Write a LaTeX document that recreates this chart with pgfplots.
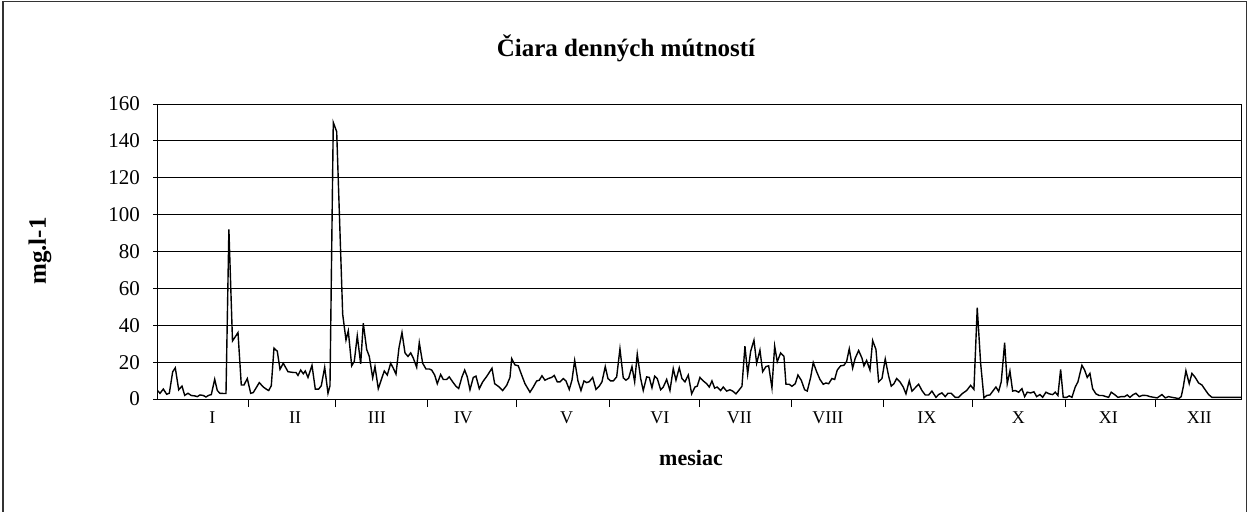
\documentclass[border=0pt]{standalone}
\usepackage{pgfplots}
\pgfplotsset{compat=1.18}
\usepackage{pgfplotstable}
\usepackage{fontspec}
\setmainfont{Liberation Serif}
\pgfplotstableread{
px val
156.7 5.0
160.0 3.1
163.3 5.4
166.7 2.6
169.3 3.1
172.7 14.8
175.3 16.9
178.7 5.0
182.0 7.0
184.7 2.0
188.0 3.1
191.3 1.9
194.7 1.7
197.3 1.3
200.0 2.2
203.3 1.9
206.0 1.1
208.7 2.0
211.3 2.4
214.7 10.7
217.3 4.6
220.0 3.1
223.3 3.0
226.0 3.0
228.9 92
232.5 31.5
238.0 36
241.3 7.6
244.0 7.6
247.3 11.1
250.7 3.1
253.3 3.5
259.3 8.9
263.3 6.5
266.7 5.2
268.7 4.6
271.3 7.2
274.0 27.6
277.3 25.9
280.0 16.1
283.3 19.4
288.0 14.8
293.3 14.4
296.0 14.4
298.0 12.8
300.7 15.7
303.3 13.7
305.3 15.2
308.0 11.7
312.0 18.3
315.3 5.4
318.7 5.4
321.3 7.2
324.7 17.2
328.0 3.1
330.0 7.2
333.3 150
336.7 145
342.7 46
346.0 32
348.3 37
351.7 18
354.3 20.4
357.3 34.3
360.7 19.1
363.3 41.1
366.7 26.9
369.3 23.1
372.7 11.5
375.0 17.6
378.3 5.6
381.7 11.1
384.3 15.2
387.3 13.0
390.7 19.4
393.3 16.7
396.0 13.5
399.0 27.8
402.0 36.1
405.0 25.0
408.0 23.1
410.7 25.0
413.3 22.2
416.7 17.2
419.3 30.6
422.7 19.4
426.0 16.3
429.3 16.3
431.7 15.7
434.7 13.0
437.3 8.3
440.7 13.3
443.3 10.6
446.7 10.6
449.3 12.0
452.7 9.3
456.0 6.9
458.7 5.7
462.0 12.0
464.7 15.7
467.3 12.0
470.0 5.0
473.3 11.7
476.0 12.4
479.3 5.6
482.7 9.3
486.0 11.7
488.7 13.9
492.0 16.7
494.7 8.3
498.3 6.9
502.7 4.6
506.7 7.4
510.0 11.7
511.7 21.9
515.0 18.5
518.3 18.0
521.7 13.0
525.0 8.3
530.0 3.7
533.3 6.5
536.7 9.8
539.3 10.2
542.0 12.6
545.0 10.2
548.3 11.1
551.7 11.7
554.3 12.8
557.3 9.3
560.0 9.3
563.3 11.1
566.0 9.8
569.3 5.2
572.0 10.2
574.7 20.9
578.0 9.8
581.0 4.6
584.0 9.8
586.7 8.9
589.3 9.4
592.7 11.7
596.0 5.2
599.3 7.0
602.0 9.3
605.3 17.6
608.0 11.1
610.7 9.8
613.3 9.8
616.7 12.0
620.0 27.2
623.3 11.5
626.0 10.2
628.7 11.3
632.0 17.6
634.7 9.3
637.3 24.4
640.7 11.1
643.3 4.6
646.7 12.0
649.3 11.7
652.0 6.1
654.7 12.4
657.3 11.1
660.7 5.0
663.3 6.5
666.7 10.6
670.0 4.6
673.3 16.5
676.0 10.2
679.3 16.9
682.0 11.1
685.0 9.3
688.3 13.0
691.7 2.8
695.0 6.5
697.3 7.0
700.0 11.7
703.3 9.8
706.7 8.3
709.3 6.5
712.0 9.8
714.7 5.9
717.3 6.5
720.7 4.6
723.3 6.5
726.7 4.3
730.0 5.0
732.7 4.3
736.0 2.8
739.3 5.0
742.0 6.9
745.0 28.7
747.7 13.5
750.7 25.9
754.0 31.9
756.7 19.4
760.0 26.5
762.7 14.8
766.0 17.6
768.7 18.0
772.0 6.1
774.7 28.7
777.3 20.2
780.7 25.0
784.0 23.1
786.0 8.0
789.3 8.0
792.0 6.9
795.3 8.3
798.0 13.0
801.3 10.2
804.7 5.0
807.3 4.3
810.7 11.7
813.3 19.8
816.7 14.8
820.0 10.6
823.3 8.0
826.0 8.7
828.7 8.3
832.0 11.1
834.7 10.6
837.3 15.7
840.7 18.0
844.0 18.3
846.7 20.4
849.3 27.2
852.7 16.7
855.3 22.2
858.7 26.3
862.0 22.2
864.0 18.0
866.7 20.9
870.0 15.7
872.7 31.7
876.0 26.9
878.7 9.3
882.0 11.1
885.3 21.7
888.7 12.4
891.3 7.0
894.0 8.3
896.7 11.1
900.0 9.3
903.3 6.5
906.0 2.8
909.3 9.8
912.0 4.3
915.3 6.1
918.7 8.0
922.0 4.6
925.3 2.2
928.7 2.2
932.0 4.3
936.0 0.9
938.7 2.4
942.0 3.3
945.3 1.3
948.0 3.1
951.3 3.1
955.3 0.9
958.7 0.9
962.0 2.8
966.7 4.6
970.7 7.4
974.0 5.2
977.3 49.5
980.7 19.4
984.0 0.6
986.7 1.9
990.0 2.2
993.3 4.6
996.0 6.5
998.7 4.1
1001.3 9.3
1004.7 30.5
1007.3 8.3
1010.0 15.2
1012.7 4.3
1015.3 4.6
1018.7 3.7
1022.0 5.6
1024.7 1.3
1027.3 3.7
1030.7 3.3
1034.0 3.9
1036.7 1.3
1040.0 2.4
1042.7 0.9
1046.0 3.7
1049.3 2.8
1052.7 2.4
1055.3 3.7
1058.0 1.9
1060.7 16.1
1063.3 0.9
1066.7 0.9
1069.3 1.7
1072.0 0.9
1075.3 6.5
1078.0 9.3
1082.0 18.3
1084.7 15.7
1087.3 11.7
1090.0 13.9
1092.7 5.6
1096.0 2.8
1099.3 1.9
1102.7 1.9
1106.0 1.3
1108.7 0.9
1111.3 3.7
1114.7 2.4
1118.0 0.9
1121.3 1.3
1124.7 1.3
1127.3 2.2
1130.0 0.9
1133.3 2.4
1136.0 3.1
1139.3 1.3
1142.7 2.0
1146.7 1.9
1150.0 1.3
1154.0 0.9
1157.3 0.6
1162.0 2.4
1165.3 0.6
1168.7 1.3
1172.0 0.9
1175.3 0.6
1178.7 0.2
1181.3 1.3
1183.3 6.5
1186.0 15.4
1189.3 8.3
1192.0 13.9
1195.3 11.7
1198.7 8.7
1202.0 7.6
1205.3 5.0
1208.7 2.4
1212.0 0.9
1241.0 0.9
}\turbidity
\begin{document}
\begin{tikzpicture}[x=0.5pt,y=0.5pt]
\begin{axis}[
  at={(78.5pt,56pt)}, anchor=south west,
  scale only axis, width=542pt, height=147.5pt,
  xmin=0, xmax=366, ymin=0, ymax=160,
  x filter/.expression={(x-157)/2.962},
  ytick={0,20,...,160},
  ymajorgrids, major grid style={black, line width=0.4pt},
  axis line style={black, line width=0.5pt},
  xtick={18.7,46.6,74.2,103.4,138.3,169.8,196.6,226.5,259.9,290.8,321.2,351.9},
  xticklabels={I,II,III,IV,V,VI,VII,VIII,IX,X,XI,XII},
  major x tick style={draw=none},
  minor xtick={30.8,60.1,91.4,121.4,152.7,183.0,214.3,245.2,275.4,306.8,337.0},
  minor tick length=4pt, major tick length=2pt,
  minor x tick style={black, line width=0.5pt},
  y tick style={black, line width=0.5pt},
  tick align=outside, xtick pos=bottom, ytick pos=left,
  /pgf/number format/assume math mode=true,
  yticklabel style={font=\fontsize{10.5}{12}\selectfont, xshift=-3pt},
  xticklabel style={font=\fontsize{9}{11}\selectfont, yshift=-1pt},
]
\addplot[black, line width=0.7pt, mark=none] table[x=px, y=val] {\turbidity};
\end{axis}
\node[font=\fontsize{12.5}{15}\selectfont\bfseries] at (626,463) {Čiara denných mútností};
\node[font=\fontsize{12.5}{15}\selectfont\bfseries, rotate=90] at (40,260) {mg.l-1};
\node[font=\fontsize{11}{13}\selectfont\bfseries] at (691,53) {mesiac};
\draw[black!80, line width=0.8pt] (3,-10) -- (3,509.5) -- (1246.5,509.5) -- (1246.5,-10);
\pgfresetboundingbox
\useasboundingbox (0,0) rectangle (1249,511);
\end{tikzpicture}
\end{document}
